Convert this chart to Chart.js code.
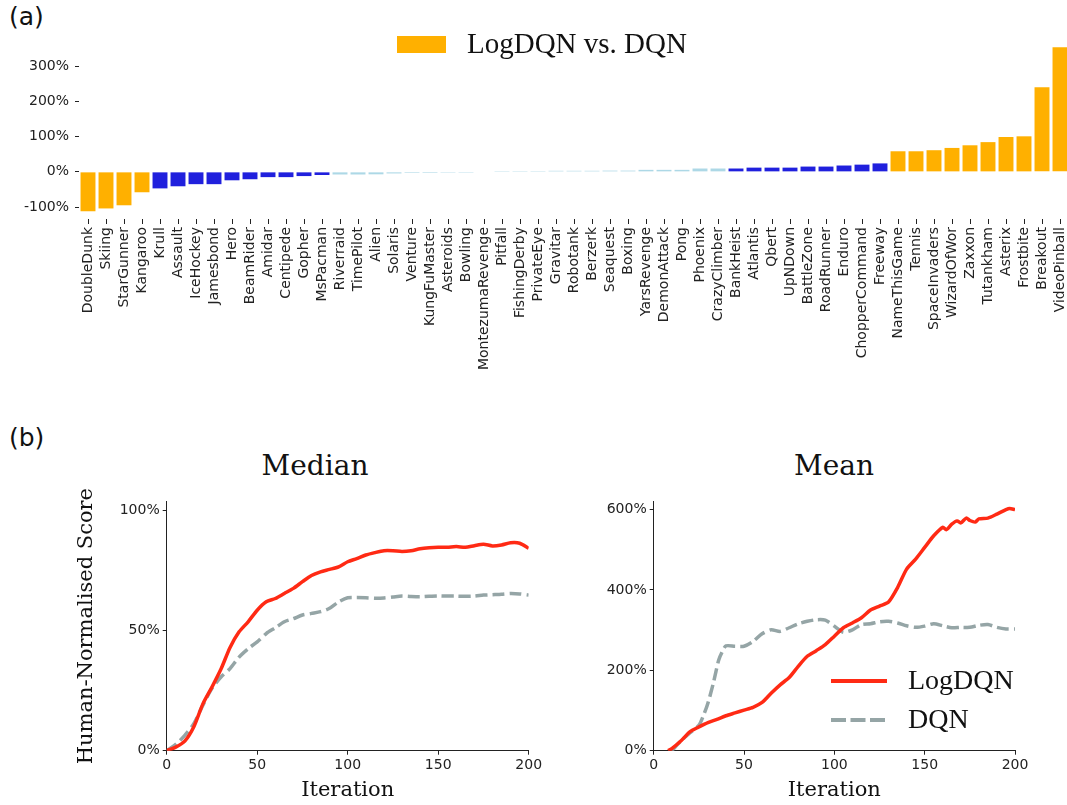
<!DOCTYPE html>
<html>
<head>
<meta charset="utf-8">
<script src="https://cdn.jsdelivr.net/npm/chart.js@4.4.1/dist/chart.umd.min.js"></script>
<style>
  body { margin: 0; background: #fff; overflow: hidden; width: 1067px; height: 805px; position: relative; }
  canvas { position: absolute; }
  .tag { position: absolute; font: 25px "DejaVu Sans"; color: #111; line-height: 1; }
  .ttl { position: absolute; width: 200px; text-align: center; font: 28px "DejaVu Serif"; color: #111; line-height: 1; top: 452px; }
</style>
</head>
<body>
<div class="tag" style="left:9px;top:4px">(a)</div>
<div class="tag" style="left:9px;top:425px">(b)</div>
<div class="ttl" style="left:215px">Median</div>
<div class="ttl" style="left:734px">Mean</div>
<canvas id="gain" width="1069" height="389" style="left:0;top:0"></canvas>
<canvas id="median" width="490" height="365" style="left:70px;top:440px"></canvas>
<canvas id="mean" width="490" height="365" style="left:560px;top:440px"></canvas>
<script>
// (a) relative improvement of LogDQN over DQN, per game, sorted
const games = ['DoubleDunk', 'Skiing', 'StarGunner', 'Kangaroo', 'Krull', 'Assault', 'IceHockey', 'Jamesbond',
  'Hero', 'BeamRider', 'Amidar', 'Centipede', 'Gopher', 'MsPacman', 'Riverraid', 'TimePilot', 'Alien', 'Solaris',
  'Venture', 'KungFuMaster', 'Asteroids', 'Bowling', 'MontezumaRevenge', 'Pitfall', 'FishingDerby', 'PrivateEye',
  'Gravitar', 'Robotank', 'Berzerk', 'Seaquest', 'Boxing', 'YarsRevenge', 'DemonAttack', 'Pong', 'Phoenix',
  'CrazyClimber', 'BankHeist', 'Atlantis', 'Qbert', 'UpNDown', 'BattleZone', 'RoadRunner', 'Enduro',
  'ChopperCommand', 'Freeway', 'NameThisGame', 'Tennis', 'SpaceInvaders', 'WizardOfWor', 'Zaxxon', 'Tutankham',
  'Asterix', 'Frostbite', 'Breakout', 'VideoPinball'];
const gain = [-112, -104, -95, -58, -47, -41, -35, -35, -24, -21, -15, -15, -12, -9, -7.5, -7.5, -7, -4.5,
  -3, -3, -2.5, -2.5, 0, 2.5, 2.5, 2.5, 3, 3, 3, 3.5, 3.5, 5.7, 5.7, 5.7, 9.5,
  9.5, 9.5, 12, 12, 12, 15, 15, 18, 20.5, 24, 58.5, 58.5, 61.5, 68, 75.5, 84.5,
  99, 101, 240.5, 354];
// how strong the difference is: big / mid / none
const tier = ['big', 'big', 'big', 'big', 'mid', 'mid', 'mid', 'mid', 'mid', 'mid', 'mid', 'mid', 'mid', 'mid',
  'none', 'none', 'none', 'none', 'none', 'none', 'none', 'none', 'none', 'none', 'none', 'none', 'none', 'none',
  'none', 'none', 'none', 'none', 'none', 'none', 'none', 'none', 'mid', 'mid', 'mid', 'mid', 'mid', 'mid', 'mid',
  'mid', 'mid', 'big', 'big', 'big', 'big', 'big', 'big', 'big', 'big', 'big', 'big'];
const gainTicks = [-100, 0, 100, 200, 300];

// (b) human-normalised scores over training
const medianIter = [0, 5, 10, 15, 20, 25, 30, 35, 40, 45, 50, 55, 60, 65, 70, 75, 80, 85, 90, 95, 100,
  105, 110, 115, 120, 125, 130, 135, 140, 145, 150, 155, 160, 165, 170, 175, 180, 185, 190, 195, 200];
const medianLog = [0, 1.5, 4, 10, 19.5, 26.5, 34, 43, 49.5, 53.7, 58.5, 62, 63.4, 65.5, 67.6, 70.4, 73, 74.5, 75.5, 76.6, 78.7,
  80, 81.5, 82.5, 83.3, 83.3, 83, 83.3, 84.1, 84.5, 84.7, 84.7, 85, 84.7, 85.4, 86, 85.3, 85.7, 86.6, 86.4, 84.3];
const medianDqn = [0, 2.6, 6.4, 11.3, 19, 26, 30.7, 34.2, 39, 42.5, 45.3, 48.8, 51.2, 53.7, 55, 56.5, 57.2, 57.9, 59.3, 62, 63.7,
  63.8, 63.7, 63.5, 63.6, 64, 64.4, 64.2, 64.1, 64.3, 64.5, 64.4, 64.4, 64.3, 64.4, 64.8, 65, 65.2, 65.5, 65.3, 64.8];
const medianTicks = [0, 50, 100];

const meanLogIter = [8, 10, 15, 20, 25, 30, 35, 40, 45, 50, 55, 60, 65, 70, 75, 80, 85, 90, 95, 100,
  105, 110, 115, 120, 125, 130, 135, 140, 145, 150, 155, 160, 162, 165, 168, 170, 173, 175, 178, 180,
  185, 190, 195, 197, 200];
const meanLog = [0, 5, 24, 47, 59, 70, 78, 87, 94, 101, 108, 120, 143, 164, 182, 210, 235, 249, 264, 285,
  306, 318, 331, 350, 360, 370, 406, 452, 477, 506, 535, 556, 550, 564, 572, 567, 579, 573, 569, 577,
  579, 589, 600, 603, 600];
const meanDqnIter = [10, 15, 20, 25, 28, 30, 33, 36, 38, 40, 45, 50, 55, 60, 65, 70, 75, 80, 85, 90, 95, 100,
  105, 110, 115, 120, 125, 130, 135, 140, 145, 150, 155, 160, 165, 170, 175, 180, 185, 190, 195, 200];
const meanDqn = [0, 24, 44, 63, 93, 118, 168, 226, 247, 261, 260, 260, 272, 291, 301, 297, 306, 316, 322, 326, 325, 310,
  295, 301, 314, 316, 321, 322, 318, 311, 307, 310, 316, 311, 306, 307, 307, 312, 314, 307, 303, 303];
const meanTicks = [0, 200, 400, 600];

const tierColour = { big: '#ffb000', mid: '#2020dd', none: '#add8e6' };
const logColour = '#ff2a14';
const dqnColour = '#95a5a6';
const ink = '#222';
const tickFont = { family: 'DejaVu Sans', size: 14 };

const pts = (xs, ys) => xs.map((x, i) => ({ x: x, y: ys[i] }));
const fixTicks = vals => s => { s.ticks = vals.map(v => ({ value: v })); };

// legends drawn inside the plot, matplotlib style
const boxLegend = {
  id: 'boxLegend',
  afterDraw(chart, args, o) {
    const ctx = chart.ctx;
    ctx.save();
    ctx.fillStyle = o.colour;
    ctx.fillRect(o.x, o.y - o.h / 2, o.w, o.h);
    ctx.fillStyle = '#111';
    ctx.font = o.font;
    ctx.textBaseline = 'middle';
    ctx.fillText(chart.data.datasets[0].label, o.x + o.w + o.space, o.y + 1);
    ctx.restore();
  }
};
const lineLegend = {
  id: 'lineLegend',
  afterDraw(chart, args, o) {
    if (!o.show) return;
    const ctx = chart.ctx;
    ctx.save();
    chart.data.datasets.forEach((ds, i) => {
      const y = o.y + i * o.gap;
      ctx.beginPath();
      ctx.setLineDash(ds.borderDash ? o.dash : []);
      ctx.strokeStyle = ds.borderColor;
      ctx.lineWidth = o.lineWidth;
      ctx.moveTo(o.x, y);
      ctx.lineTo(o.x + o.len, y);
      ctx.stroke();
      ctx.setLineDash([]);
      ctx.fillStyle = '#111';
      ctx.font = o.font;
      ctx.textBaseline = 'middle';
      ctx.fillText(ds.label, o.x + o.len + o.space, y + 1);
    });
    ctx.restore();
  }
};

new Chart(document.getElementById('gain'), {
  type: 'bar',
  data: {
    labels: games,
    datasets: [{
      label: 'LogDQN vs. DQN', data: gain,
      backgroundColor: c => tierColour[tier[c.dataIndex]],
      categoryPercentage: 1, barPercentage: 0.83, borderWidth: 0,
    }]
  },
  options: {
    responsive: false, animation: false, devicePixelRatio: 1,
    layout: { padding: { top: 39, right: 0, bottom: 0, left: 0 } },
    plugins: {
      legend: { display: false }, tooltip: { enabled: false },
      boxLegend: { x: 397, y: 44.5, w: 49, h: 17, space: 21, colour: tierColour.big, font: '29px "Liberation Serif"' },
    },
    scales: {
      x: {
        offset: true,
        grid: { drawOnChartArea: false, offset: false, tickLength: 5, color: ink },
        border: { display: false },
        ticks: { autoSkip: false, minRotation: 90, maxRotation: 90, padding: 3, color: ink, font: tickFont },
        afterFit: s => { s.height = 170; s.paddingLeft = 0; s.paddingRight = 0; },
      },
      y: {
        min: -134, max: 377.6,
        grid: { drawOnChartArea: false, tickLength: 4, color: ink },
        border: { display: false },
        afterBuildTicks: fixTicks(gainTicks),
        ticks: { padding: 6, color: ink, font: tickFont, callback: v => v + '%' },
        afterFit: s => { s.width = 79; },
      }
    }
  },
  plugins: [boxLegend]
});

function scoreChart(id, logX, logY, dqnX, dqnY, yMax, yTicks, yWidth, padRight, withYTitle, legendOn) {
  return new Chart(document.getElementById(id), {
    type: 'line',
    data: {
      datasets: [
        { label: 'LogDQN', data: pts(logX, logY), borderColor: logColour, borderWidth: 3.5, pointRadius: 0, tension: 0.25 },
        { label: 'DQN', data: pts(dqnX, dqnY), borderColor: dqnColour, borderWidth: 3.5, borderDash: [12, 5], pointRadius: 0, tension: 0.25 },
      ]
    },
    options: {
      responsive: false, animation: false, devicePixelRatio: 1,
      layout: { padding: { top: 61.6, right: padRight, bottom: 0, left: 0 } },
      plugins: {
        legend: { display: false }, tooltip: { enabled: false },
        lineLegend: { show: legendOn, x: 271, y: 241, gap: 39, len: 56, space: 21, lineWidth: 4, dash: [15, 4.5], font: '28px "Liberation Serif"' },
      },
      scales: {
        x: {
          type: 'linear', min: 0, max: 200,
          grid: { drawOnChartArea: false, tickLength: 4, color: ink },
          border: { display: true, color: ink, width: 1 },
          ticks: { stepSize: 50, padding: 2, color: ink, font: tickFont },
          title: { display: true, text: 'Iteration', color: '#111', font: { family: 'DejaVu Serif', size: 21 }, padding: { top: 0, bottom: 2 } },
          afterFit: s => { s.height = 54.3; },
        },
        y: {
          min: 0, max: yMax,
          grid: { drawOnChartArea: false, tickLength: 4, color: ink },
          border: { display: true, color: ink, width: 1 },
          afterBuildTicks: fixTicks(yTicks),
          ticks: { padding: 3, color: ink, font: tickFont, callback: v => v + '%' },
          title: { display: withYTitle, text: 'Human-Normalised Score', color: '#111', font: { family: 'DejaVu Serif', size: 21 }, padding: { top: 3.5, bottom: 0 } },
          afterFit: s => { s.width = yWidth; },
        }
      }
    },
    plugins: [lineLegend]
  });
}

scoreChart('median', medianIter, medianLog, medianIter, medianDqn, 103.75, medianTicks, 96.7, 31.3, true, false);
scoreChart('mean', meanLogIter, meanLog, meanDqnIter, meanDqn, 620, meanTicks, 93.7, 35, false, true);
</script>
</body>
</html>
